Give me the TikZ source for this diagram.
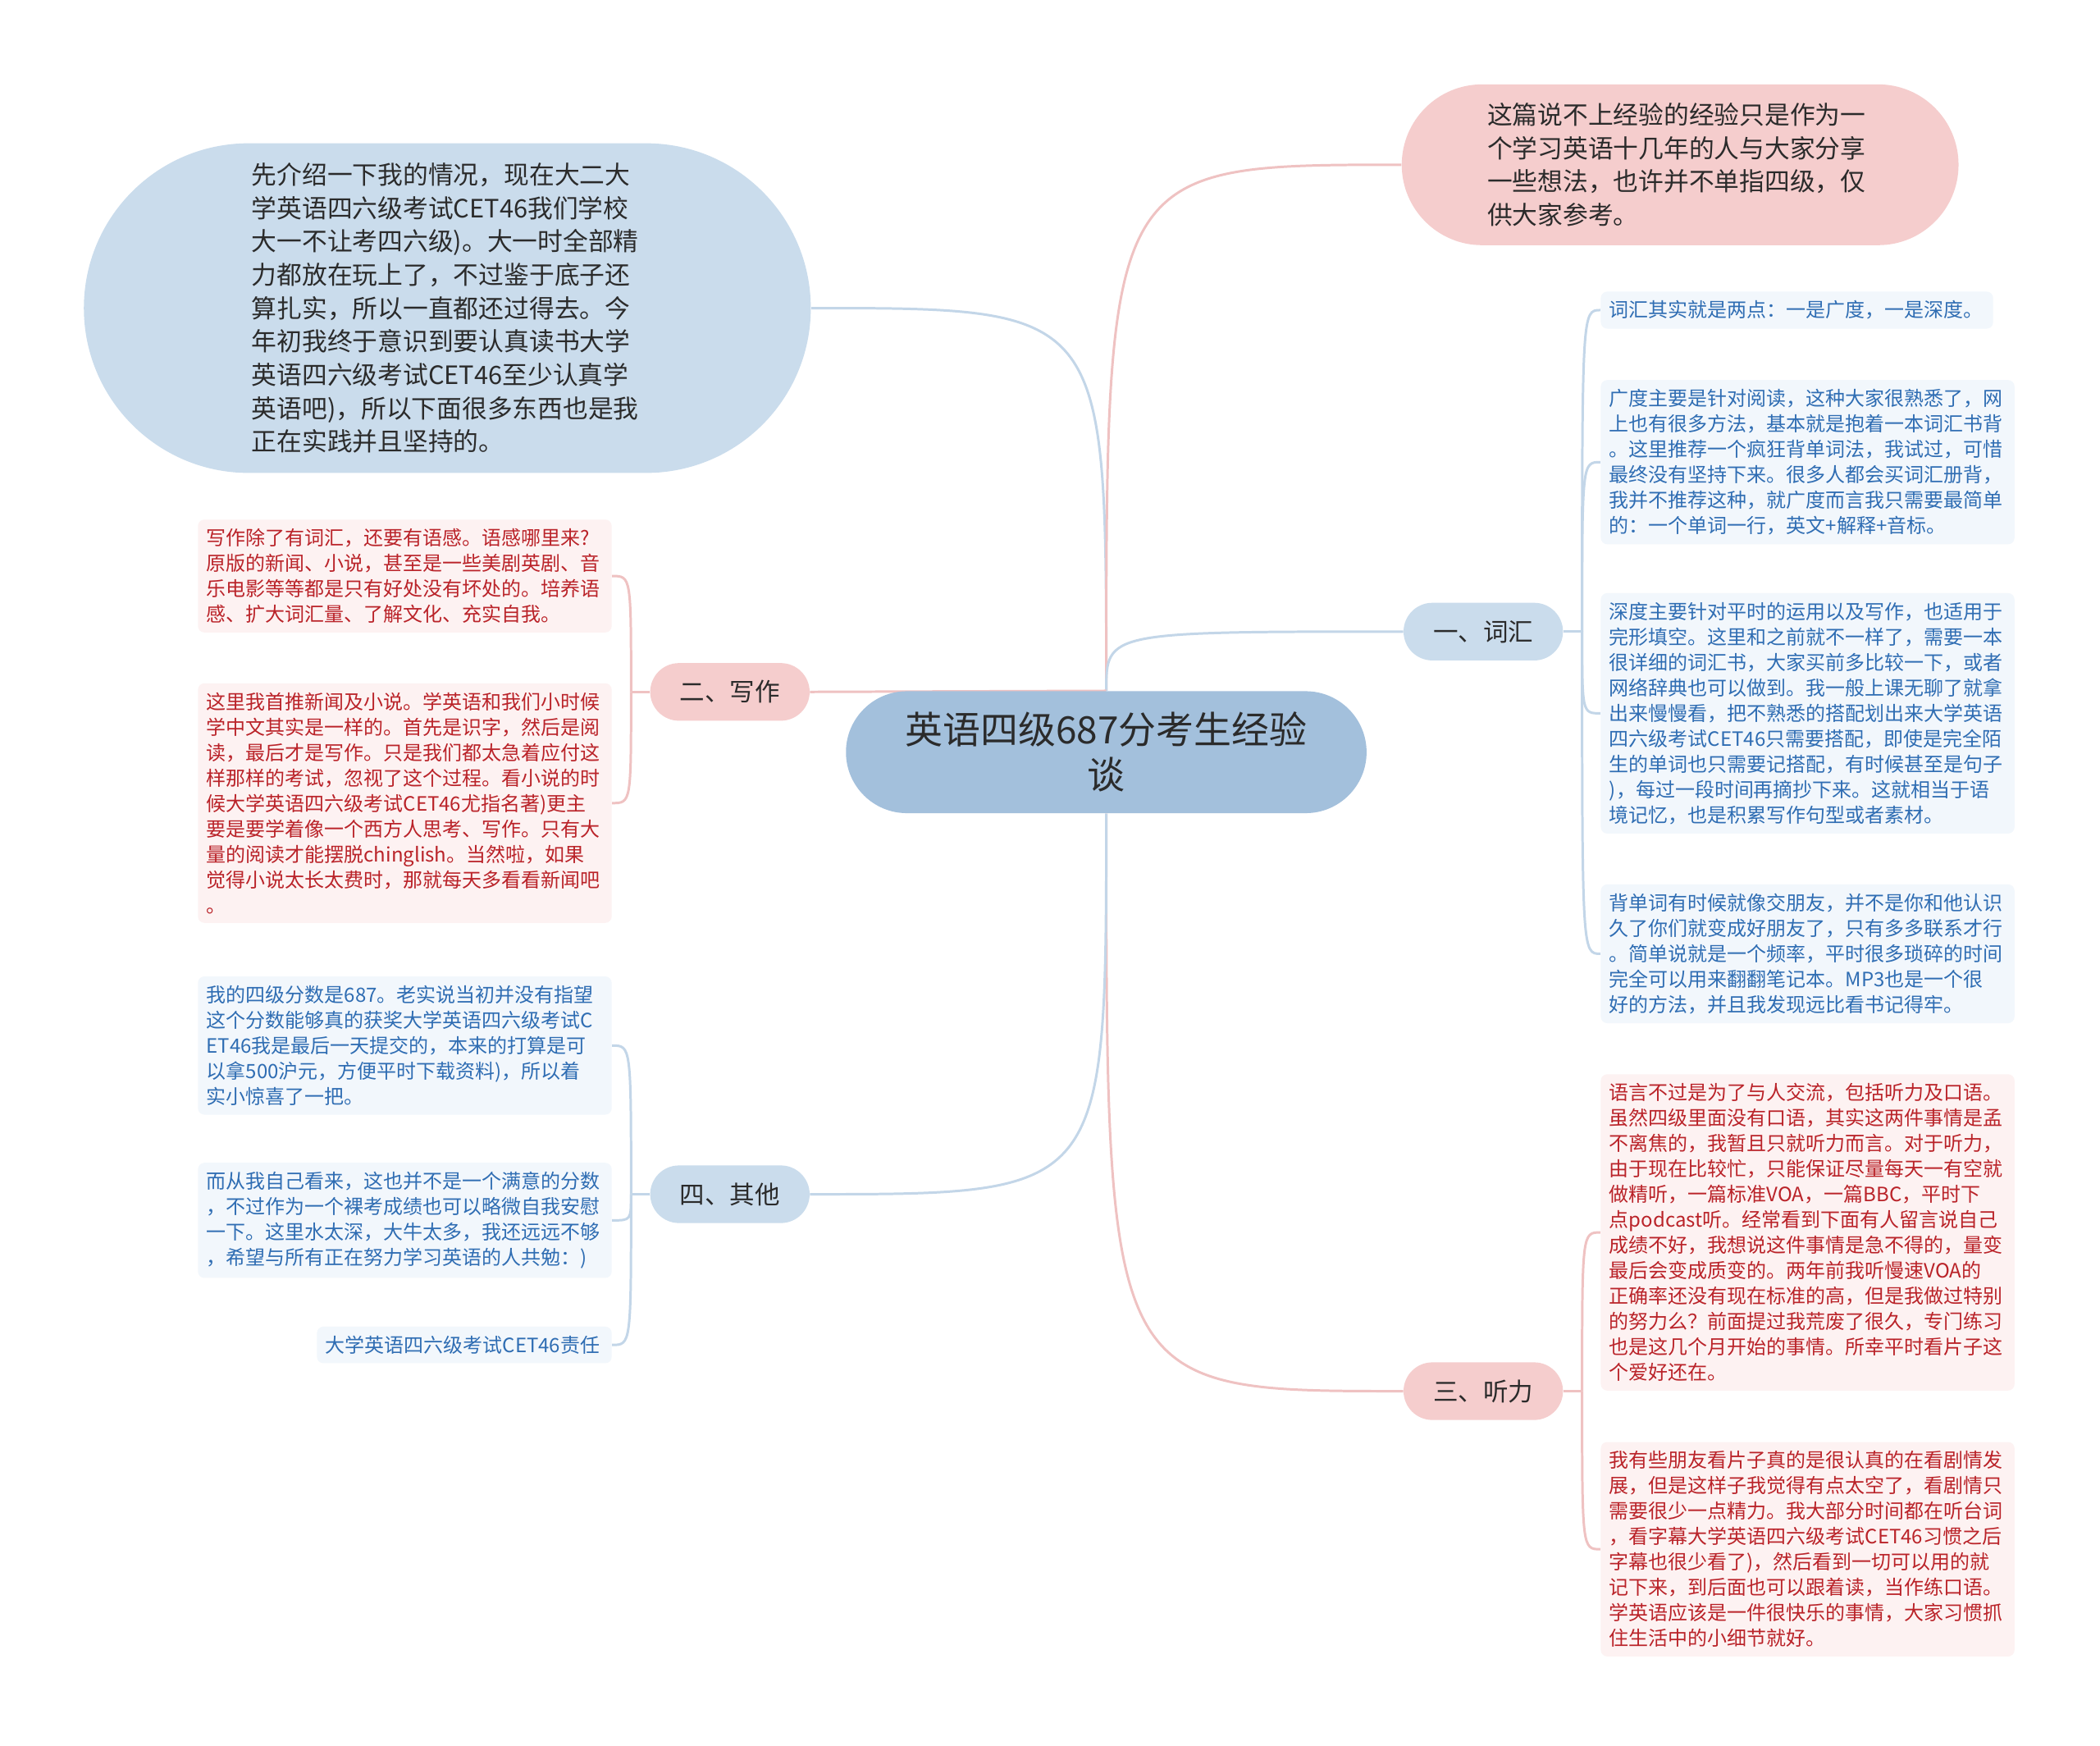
\documentclass[tikz,border=0pt]{standalone}
\usepackage{fontspec}
\setmainfont{Noto Sans CJK SC}
\usetikzlibrary{shapes.misc,backgrounds,calc}

\definecolor{rootfill}{HTML}{A3C0DC}
\definecolor{bluefill}{HTML}{CADCEC}
\definecolor{pinkfill}{HTML}{F5CDCD}
\definecolor{blueleaf}{HTML}{F2F7FC}
\definecolor{pinkleaf}{HTML}{FDF2F2}
\definecolor{bluetext}{HTML}{2F6DB3}
\definecolor{redtext}{HTML}{BA2329}
\definecolor{blueline}{HTML}{C3D6E8}
\definecolor{pinkline}{HTML}{EFC2C2}
\definecolor{darktext}{HTML}{2B2B2B}

\begin{document}
\begin{tikzpicture}[
        x=0.025cm, y=-0.025cm,
        root/.style={rounded rectangle, fill=rootfill, text=darktext, minimum width=9.95cm, minimum height=2.275cm, align=center, font=\fontsize{20}{24}\selectfont},
        topic/.style={rounded rectangle, text=darktext, minimum width=2.975cm, minimum height=1.075cm, inner sep=0pt, font=\fontsize{13.3}{16}\selectfont},
        note/.style={rounded rectangle, text=darktext, align=left, font=\fontsize{13.4}{17.7}\selectfont},
        leaf/.style={rectangle, rounded corners=0.12cm, text width=7.4cm, align=left, inner xsep=0.16cm, inner ysep=0.17cm, font=\fontsize{10.45}{13.5}\selectfont},
        bleaf/.style={leaf, fill=blueleaf, text=bluetext},
        rleaf/.style={leaf, fill=pinkleaf, text=redtext},
        bline/.style={draw=blueline, line width=1.3pt},
        pline/.style={draw=pinkline, line width=1.3pt},
    ]
    \useasboundingbox (0,0) rectangle (1568,1303);

    % Root and intro notes
    \node[root] (root) at (826,561.5) {英语四级687分考生经验\\谈};
    \node[note, fill=bluefill, minimum width=13.8cm, minimum height=6.15cm, text width=7.3cm] (intro) at (334,230)
        {先介绍一下我的情况，现在大二大\\学英语四六级考试CET46我们学校\\大一不让考四六级)。大一时全部精\\力都放在玩上了，不过鉴于底子还\\算扎实，所以一直都还过得去。今\\年初我终于意识到要认真读书大学\\英语四六级考试CET46至少认真学\\英语吧)，所以下面很多东西也是我\\正在实践并且坚持的。};
    \node[note, fill=pinkfill, minimum width=10.625cm, minimum height=3cm, text width=7.2cm] (preface) at (1254.5,123)
        {这篇说不上经验的经验只是作为一\\个学习英语十几年的人与大家分享\\一些想法，也许并不单指四级，仅\\供大家参考。};

    % Topics
    \node[topic, fill=bluefill] (vocab) at (1107.5,471.5) {一、词汇};
    \node[topic, fill=pinkfill] (listen) at (1107.5,1038.5) {三、听力};
    \node[topic, fill=pinkfill] (write) at (545,516.5) {二、写作};
    \node[topic, fill=bluefill] (other) at (545,891.5) {四、其他};

    % Vocabulary leaves
    \node[bleaf, anchor=west, text width=7.0cm] (vocab1) at (1195,231.5) {词汇其实就是两点：一是广度，一是深度。};
    \node[bleaf, anchor=west] (vocab2) at (1195,345) {广度主要是针对阅读，这种大家很熟悉了，网\\上也有很多方法，基本就是抱着一本词汇书背\\。这里推荐一个疯狂背单词法，我试过，可惜\\最终没有坚持下来。很多人都会买词汇册背，\\我并不推荐这种，就广度而言我只需要最简单\\的：一个单词一行，英文+解释+音标。};
    \node[bleaf, anchor=west] (vocab3) at (1195,532.5) {深度主要针对平时的运用以及写作，也适用于\\完形填空。这里和之前就不一样了，需要一本\\很详细的词汇书，大家买前多比较一下，或者\\网络辞典也可以做到。我一般上课无聊了就拿\\出来慢慢看，把不熟悉的搭配划出来大学英语\\四六级考试CET46只需要搭配，即使是完全陌\\生的单词也只需要记搭配，有时候甚至是句子\\)，每过一段时间再摘抄下来。这就相当于语\\境记忆，也是积累写作句型或者素材。};
    \node[bleaf, anchor=west] (vocab4) at (1195,712) {背单词有时候就像交朋友，并不是你和他认识\\久了你们就变成好朋友了，只有多多联系才行\\。简单说就是一个频率，平时很多琐碎的时间\\完全可以用来翻翻笔记本。MP3也是一个很\\好的方法，并且我发现远比看书记得牢。};

    % Listening leaves
    \node[rleaf, anchor=west] (listen1) at (1195,920) {语言不过是为了与人交流，包括听力及口语。\\虽然四级里面没有口语，其实这两件事情是孟\\不离焦的，我暂且只就听力而言。对于听力，\\由于现在比较忙，只能保证尽量每天一有空就\\做精听，一篇标准VOA，一篇BBC，平时下\\点podcast听。经常看到下面有人留言说自己\\成绩不好，我想说这件事情是急不得的，量变\\最后会变成质变的。两年前我听慢速VOA的\\正确率还没有现在标准的高，但是我做过特别\\的努力么？前面提过我荒废了很久，专门练习\\也是这几个月开始的事情。所幸平时看片子这\\个爱好还在。};
    \node[rleaf, anchor=west] (listen2) at (1195,1156.5) {我有些朋友看片子真的是很认真的在看剧情发\\展，但是这样子我觉得有点太空了，看剧情只\\需要很少一点精力。我大部分时间都在听台词\\，看字幕大学英语四六级考试CET46习惯之后\\字幕也很少看了)，然后看到一切可以用的就\\记下来，到后面也可以跟着读，当作练口语。\\学英语应该是一件很快乐的事情，大家习惯抓\\住生活中的小细节就好。};

    % Writing leaves
    \node[rleaf, anchor=east] (write1) at (457,430) {写作除了有词汇，还要有语感。语感哪里来?\\原版的新闻、小说，甚至是一些美剧英剧、音\\乐电影等等都是只有好处没有坏处的。培养语\\感、扩大词汇量、了解文化、充实自我。};
    \node[rleaf, anchor=east] (write2) at (457,599.5) {这里我首推新闻及小说。学英语和我们小时候\\学中文其实是一样的。首先是识字，然后是阅\\读，最后才是写作。只是我们都太急着应付这\\样那样的考试，忽视了这个过程。看小说的时\\候大学英语四六级考试CET46尤指名著)更主\\要是要学着像一个西方人思考、写作。只有大\\量的阅读才能摆脱chinglish。当然啦，如果\\觉得小说太长太费时，那就每天多看看新闻吧\\。};

    % Other leaves
    \node[bleaf, anchor=east] (other1) at (457,780.5) {我的四级分数是687。老实说当初并没有指望\\这个分数能够真的获奖大学英语四六级考试C\\ET46我是最后一天提交的，本来的打算是可\\以拿500沪元，方便平时下载资料)，所以着\\实小惊喜了一把。};
    \node[bleaf, anchor=east] (other2) at (457,911) {而从我自己看来，这也并不是一个满意的分数\\，不过作为一个裸考成绩也可以略微自我安慰\\一下。这里水太深，大牛太多，我还远远不够\\，希望与所有正在努力学习英语的人共勉：)};
    \node[bleaf, anchor=east, text width=5.18cm] (other3) at (457,1004) {大学英语四六级考试CET46责任};

    % Junctions
    \coordinate (vj) at ($(vocab.east)+(14,0)$);
    \coordinate (lj) at ($(listen.east)+(14,0)$);
    \coordinate (wj) at ($(write.west)+(-14,0)$);
    \coordinate (oj) at ($(other.west)+(-14,0)$);

    \begin{scope}[on background layer]
        \fill[white] (0,0) rectangle (1568,1303);
        % root to topics
        \draw[bline] (root.north) .. controls (root.north |- intro.east) .. (intro.east);
        \draw[pline] (root.north) .. controls (root.north |- preface.west) .. (preface.west);
        \draw[bline] (root.north) .. controls (root.north |- vocab.west) .. (vocab.west);
        \draw[pline] (root.north) -- (write.east);
        \draw[pline] (root.south) .. controls (root.south |- listen.west) .. (listen.west);
        \draw[bline] (root.south) .. controls (root.south |- other.east) .. (other.east);
        % topics to leaves
        \draw[bline] (vocab.east) -- (vj);
        \draw[pline] (listen.east) -- (lj);
        \draw[pline] (write.west) -- (wj);
        \draw[bline] (other.west) -- (oj);
        \foreach \leaf in {vocab1,vocab2,vocab3,vocab4}
            \draw[bline] (vj) .. controls (vj |- \leaf.west) .. (\leaf.west);
        \foreach \leaf in {listen1,listen2}
            \draw[pline] (lj) .. controls (lj |- \leaf.west) .. (\leaf.west);
        \foreach \leaf in {write1,write2}
            \draw[pline] (wj) .. controls (wj |- \leaf.east) .. (\leaf.east);
        \foreach \leaf in {other1,other2,other3}
            \draw[bline] (oj) .. controls (oj |- \leaf.east) .. (\leaf.east);
    \end{scope}

    \end{tikzpicture}
\end{document}
